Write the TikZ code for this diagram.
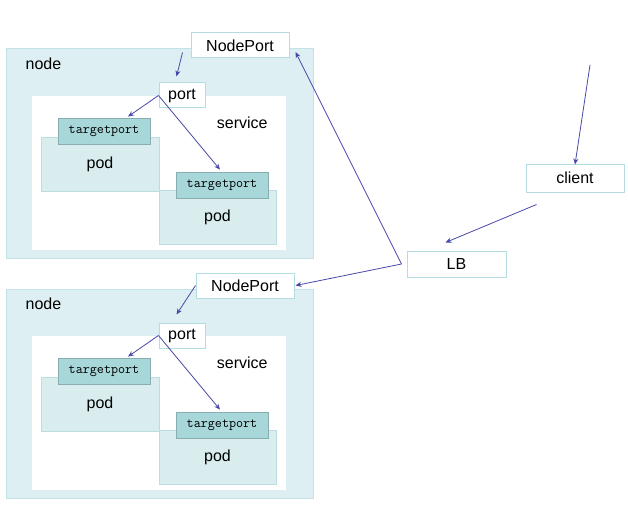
\documentclass[tikz,border=0pt]{standalone}
\usepackage{fontspec}
\setmainfont{Liberation Sans}
\usetikzlibrary{arrows.meta,positioning}
\definecolor{hostfill}{HTML}{DDEFF2}
\definecolor{hostline}{HTML}{C2E2E7}
\definecolor{podfill}{HTML}{D9EDEF}
\definecolor{podline}{HTML}{BCDCE0}
\definecolor{tpfill}{HTML}{A8D7DA}
\definecolor{tpline}{HTML}{89AEB1}
\definecolor{boxline}{HTML}{B3DDE3}
\definecolor{flow}{HTML}{4848A8}

\begin{document}
\begin{tikzpicture}[x=1pt, y=-1pt,
  every node/.style = {font = \fontsize{16}{19}\selectfont, inner sep = 0pt},
  host/.style = {fill = hostfill, draw = hostline, line width = 1pt},
  svcbox/.style = {fill = white, draw = none},
  podbox/.style = {fill = podfill, draw = podline, line width = 0.8pt},
  tpbox/.style = {fill = tpfill, draw = tpline, line width = 0.8pt, font = \ttfamily\fontsize{13.7}{16}\selectfont},
  portbox/.style = {fill = white, draw = boxline, line width = 1pt},
  arr/.style = {draw = flow, line width = 0.8pt, -{Stealth[length = 6pt, width = 5pt]}}]
\useasboundingbox (0,0) rectangle (628,505);

\foreach \i/\dy/\dx in {1/0/0, 2/240/5} {
\node[host, minimum width = 307, minimum height = 209] (host\i) at (159.5, 153.5+\dy) {};
\node[right] at ([shift = {(20,15)}]host\i.north west) {node};
\node[svcbox, minimum width = 254, minimum height = 154] (svc\i) at (159, 173+\dy) {};
\node at ([shift = {(-44,27)}]svc\i.north east) {service};
\node[podbox, minimum width = 118, minimum height = 54] (poda\i) at (100, 164+\dy) {pod};
\node[podbox, minimum width = 117, minimum height = 54] (podb\i) at (217.5, 217+\dy) {pod};
\node[tpbox, minimum width = 92, minimum height = 26] (tpa\i) at (104, 131+\dy) {targetport};
\node[tpbox, minimum width = 92, minimum height = 26] (tpb\i) at (222, 185+\dy) {targetport};
\node[portbox, minimum width = 46, minimum height = 25] (port\i) at (182, 95.5+\dy) {port};
\node[portbox, minimum width = 98, minimum height = 25] (np\i) at (240+\dx, 45.5+\dy) {NodePort};
}

\node[portbox, minimum width = 98, minimum height = 28] (client) at (575, 178) {client};
\node[portbox, minimum width = 99, minimum height = 26] (lb) at (456.5, 264) {LB};
\coordinate (user) at (590, 65);

% NodePort -> port -> targetport
\draw[arr] ([shift = {(-8,-6)}]np1.south west) -- ([shift = {(18,-6)}]port1.north west);
\draw[arr] (np2.west) -- ([shift = {(18,-8)}]port2.north west);
\foreach \i in {1,2} {
\draw[arr] (port\i.west) -- ([shift = {(24,-1)}]tpa\i.north);
\draw[arr] (port\i.west) -- ([shift = {(-2,-2)}]tpb\i.north);
}

% outside traffic
\draw[arr] (user) -- ([yshift = -1]client.north);
\draw[arr] ([shift = {(11,12)}]client.south west) -- ([shift = {(-11,-8)}]lb.north);
\draw[arr] ([xshift = -5]lb.west) -- ([shift = {(6,6.5)}]np1.east);
\draw[arr] ([xshift = -5]lb.west) -- ([xshift = 1]np2.east);
\end{tikzpicture}
\end{document}
